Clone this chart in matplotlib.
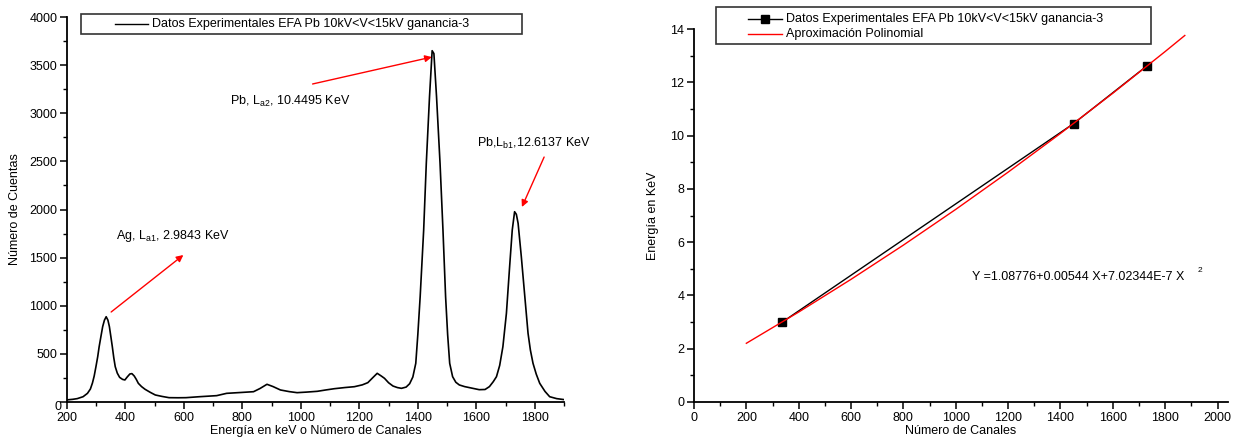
import matplotlib
matplotlib.use("Agg")
import matplotlib.pyplot as plt
from matplotlib.patches import Rectangle
from matplotlib.lines import Line2D
from matplotlib.ticker import MultipleLocator, FuncFormatter

plt.rcParams['font.family'] = ['Liberation Sans', 'DejaVu Sans']
plt.rcParams['mathtext.fontset'] = 'custom'
plt.rcParams['mathtext.rm'] = 'Liberation Sans'

# ---- Data: spectrum (channel vs counts) ----
channels = [200, 220, 235, 255, 270, 280, 287, 293, 299, 305, 310, 316, 322, 328, 334, 340, 345,
            350, 355, 360, 365, 372, 380, 390, 398, 406, 415, 422, 430, 437, 444, 455, 467, 485,
            502, 525, 549, 580, 607, 630, 653, 680, 712, 746, 790, 838, 860, 884, 905, 930, 960,
            987, 1020, 1056, 1085, 1114, 1150, 1183, 1210, 1229, 1245, 1261, 1275, 1286, 1300,
            1315, 1330, 1344, 1360, 1372, 1383, 1393, 1400, 1408, 1414, 1420, 1429, 1440, 1449,
            1455, 1464, 1476, 1486, 1495, 1502, 1509, 1519, 1530, 1542, 1560, 1588, 1610, 1630,
            1645, 1658, 1669, 1680, 1691, 1703, 1714, 1723, 1731, 1737, 1743, 1754, 1766, 1777,
            1785, 1794, 1805, 1817, 1835, 1851, 1875, 1900]
counts = [22, 28, 35, 55, 90, 135, 197, 270, 367, 470, 575, 680, 783, 850, 886, 850, 783,
          680, 575, 460, 367, 300, 256, 235, 229, 260, 291, 295, 270, 235, 194, 160, 132, 100,
          73, 58, 45, 44, 45, 50, 55, 60, 66, 90, 98, 107, 140, 184, 160, 125, 108,
          97, 103, 111, 125, 138, 150, 159, 178, 201, 250, 298, 270, 246, 200,
          166, 150, 142, 155, 190, 260, 402, 700, 1094, 1440, 1787, 2480, 3172, 3650,
          3620, 3172, 2480, 1787, 1094, 700, 402, 263, 205, 177, 160, 142, 128, 130,
          160, 211, 263, 380, 575, 921, 1406, 1787, 1977, 1950, 1857, 1510, 1094, 714,
          540, 402, 290, 194, 110, 55, 35, 25]

# ---- Data: calibration ----
cal_channels = [335, 1450, 1730]
cal_energies = [2.9843, 10.4495, 12.6137]
fit_x = [200, 400, 600, 800, 1000, 1200, 1400, 1600, 1800, 1875]
fit_y = [2.204, 3.376, 4.605, 5.889, 7.230, 8.627, 10.080, 11.590, 13.155, 13.757]

legend_left = "Datos Experimentales EFA Pb 10kV<V<15kV ganancia-3"
legend_fit = "Aproximación Polinomial"
equation = "Y =1.08776+0.00544 X+7.02344E-7 X"

W, H = 1247, 445
fig = plt.figure(figsize=(W / 100, H / 100), dpi=100)

def fx(px):
    return px / W

def fy(py):
    return 1 - py / H

FS = 9

def style_axes(ax):
    for s in ['top', 'right']:
        ax.spines[s].set_visible(False)
    for s in ['left', 'bottom']:
        ax.spines[s].set_linewidth(1.3)
    ax.tick_params(which='major', direction='out', length=5, width=1.1, labelsize=FS, pad=2)
    ax.tick_params(which='minor', direction='out', length=3, width=1.0)

# ---------------- Left chart ----------------
axL = fig.add_axes([fx(67), fy(402), fx(564 - 67), fy(17) - fy(402)])
axL.plot(channels, counts, color='black', lw=1.2)
axL.set_xlim(200, 1900)
axL.set_ylim(0, 4000)
axL.xaxis.set_major_locator(MultipleLocator(200))
axL.xaxis.set_minor_locator(MultipleLocator(100))
axL.yaxis.set_major_locator(MultipleLocator(500))
axL.yaxis.set_minor_locator(MultipleLocator(250))
axL.yaxis.set_major_formatter(FuncFormatter(lambda v, p: '' if v == 0 else f'{int(v)}'))
style_axes(axL)
axL.text(-0.012, -0.012, '0', transform=axL.transAxes, ha='right', va='center', fontsize=FS)
axL.set_xlabel('Energía en keV o Número de Canales', fontsize=FS, labelpad=1)
axL.set_ylabel('Número de Cuentas', fontsize=FS, labelpad=6)

arrow_kw = dict(arrowstyle='-|>', color='red', lw=1.0, mutation_scale=10, shrinkA=0, shrinkB=0)
axL.annotate('', xy=(598, 1527), xytext=(351, 935), arrowprops=arrow_kw)
axL.annotate('', xy=(1448, 3584), xytext=(1040, 3304), arrowprops=arrow_kw)
axL.annotate('', xy=(1756, 2026), xytext=(1832, 2545), arrowprops=arrow_kw)
axL.text(368, 1725, r'Ag, L$_{\mathregular{a1}}$, 2.9843 KeV', fontsize=FS, va='center')
axL.text(759, 3127, r'Pb, L$_{\mathregular{a2}}$, 10.4495 KeV', fontsize=FS, va='center')
axL.text(1602, 2690, r'Pb,L$_{\mathregular{b1}}$,12.6137 KeV', fontsize=FS, va='center')

# left legend (manual box)
fig.patches.append(Rectangle((fx(81), fy(34)), fx(522 - 81), fy(14) - fy(34),
                             transform=fig.transFigure, fill=False, ec='#333333', lw=1.2))
fig.lines.append(Line2D([fx(115), fx(148)], [fy(24), fy(24)], transform=fig.transFigure,
                        color='black', lw=1.0))
fig.text(fx(152), fy(24), legend_left, fontsize=FS, va='center', ha='left')

# ---------------- Right chart ----------------
axR = fig.add_axes([fx(694), fy(402), fx(1228 - 694), fy(29) - fy(402)])
axR.plot(cal_channels, cal_energies, color='black', lw=1.0, marker='s', ms=6)
axR.plot(fit_x, fit_y, color='red', lw=1.0)
axR.set_xlim(0, 2040)
axR.set_ylim(0, 14)
axR.xaxis.set_major_locator(MultipleLocator(200))
axR.xaxis.set_minor_locator(MultipleLocator(100))
axR.yaxis.set_major_locator(MultipleLocator(2))
axR.yaxis.set_minor_locator(MultipleLocator(1))
style_axes(axR)
axR.set_xlabel('Número de Canales', fontsize=FS, labelpad=1)
axR.set_ylabel('Energía en KeV', fontsize=FS, labelpad=8)
axR.text(1063, 4.69, equation, fontsize=FS, va='center')
axR.text(1923, 4.92, '2', fontsize=6, va='center')

# right legend (manual box)
fig.patches.append(Rectangle((fx(716), fy(44)), fx(1151 - 716), fy(7) - fy(44),
                             transform=fig.transFigure, fill=False, ec='#333333', lw=1.2))
fig.lines.append(Line2D([fx(748), fx(782)], [fy(19), fy(19)], transform=fig.transFigure,
                        color='black', lw=1.0))
fig.lines.append(Line2D([fx(765)], [fy(19)], transform=fig.transFigure,
                        color='black', marker='s', ms=6, lw=0))
fig.text(fx(786), fy(19), legend_left, fontsize=FS, va='center', ha='left')
fig.lines.append(Line2D([fx(748), fx(782)], [fy(34), fy(34)], transform=fig.transFigure,
                        color='red', lw=1.0))
fig.text(fx(786), fy(34), legend_fit, fontsize=FS, va='center', ha='left')

fig.savefig('out.png', dpi=100)
